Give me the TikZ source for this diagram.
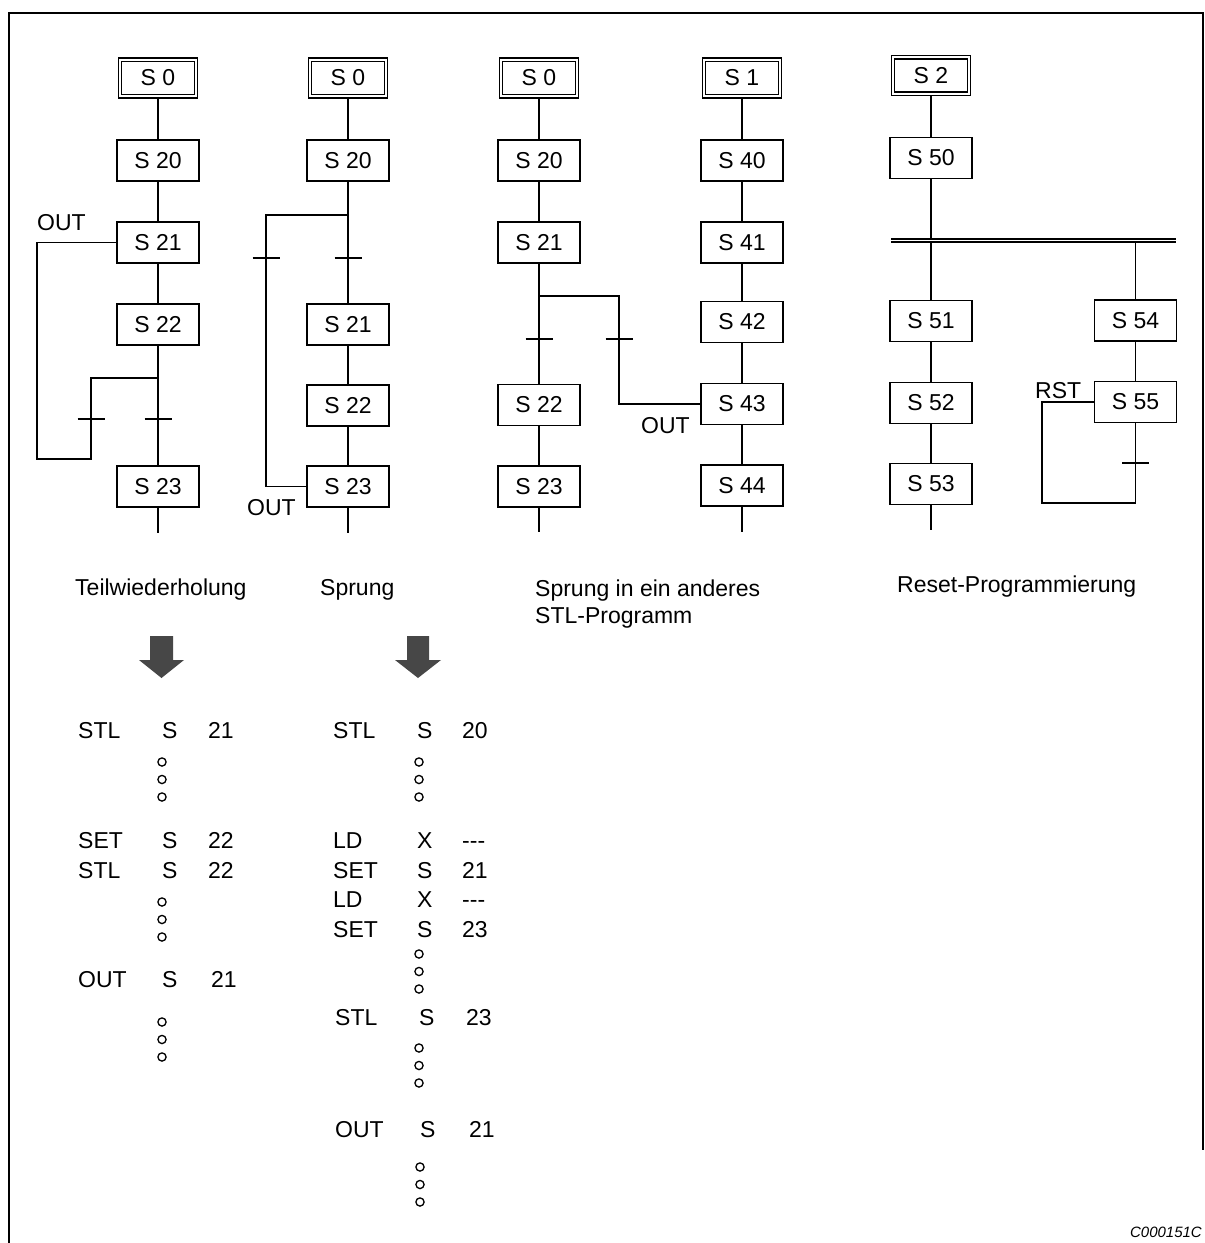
\documentclass[tikz,border=0pt]{standalone}
\usepackage{fontspec}
\setmainfont{Liberation Sans}
\definecolor{arrowgray}{HTML}{474747}
\newcommand{\threedots}[2]{%
  \draw[line width=1.3pt] (#1,#2) circle[radius=4.1pt];
  \draw[line width=1.3pt] (#1,#2+17.5) circle[radius=4.1pt];
  \draw[line width=1.3pt] (#1,#2+35) circle[radius=4.1pt];}
\newcommand{\dashes}{\mbox{-{}-{}-}}
\begin{document}
\begin{tikzpicture}[x=1pt,y=-1pt,
  every node/.style={font=\fontsize{23}{27}\selectfont},
  stepbox/.style={draw, line width=1.5pt, minimum width=82pt, minimum height=41pt, inner sep=0pt},
  initbox/.style={draw, double, double distance=2.2pt, line width=1.3pt, minimum width=76pt, minimum height=36.5pt, inner sep=0pt, outer sep=2.4pt},
  conn/.style={line width=1.4pt},
  lbl/.style={anchor=base west, inner sep=0pt},
  ctext/.style={anchor=base west, inner sep=0pt},
]
\useasboundingbox (0,0) rectangle (1205,1243);
% frame
\draw[line width=2.2pt] (9,1243) -- (9,13) -- (1203,13) -- (1203,1150);

% ---------- column 1: Teilwiederholung ----------
\node[initbox] (a0) at (158,78) {S 0};
\node[stepbox] (a20) at (158,160.5) {S 20};
\node[stepbox] (a21) at (158,242.5) {S 21};
\node[stepbox] (a22) at (158,324.5) {S 22};
\node[stepbox] (a23) at (158,486.5) {S 23};
\coordinate (aj) at (158,378);
\coordinate (al) at (91,378);
\coordinate (ab) at (91,459);
\coordinate (ac) at (37,459);
\coordinate (aend) at (158,533);
\coordinate (at1) at (91,419);
\coordinate (at2) at (158,419);
\draw[conn] (a0) -- (a20);
\draw[conn] (a20) -- (a21);
\draw[conn] (a21) -- (a22);
\draw[conn] (a22) -- (aj) -- (a23);
\draw[conn] (aj) -- (al) -- (ab) -- (ac) -- (ac |- a21) -- (a21.west);
\draw[conn] (a23) -- (aend);
\draw[conn] ([xshift=-13.5pt]at1) -- ([xshift=13.5pt]at1);
\draw[conn] ([xshift=-13.5pt]at2) -- ([xshift=13.5pt]at2);
\node[lbl] (aout) at (37,230) {OUT};

% ---------- column 2: Sprung ----------
\node[initbox] (b0) at (348,78) {S 0};
\node[stepbox] (b20) at (348,160.5) {S 20};
\node[stepbox] (b21) at (348,324.5) {S 21};
\node[stepbox] (b22) at (348,405.5) {S 22};
\node[stepbox] (b23) at (348,486.5) {S 23};
\coordinate (bj) at (348,215);
\coordinate (bl) at (266,215);
\coordinate (bend) at (348,533);
\coordinate (bt1) at (266,258);
\coordinate (bt2) at (348,258);
\draw[conn] (b0) -- (b20);
\draw[conn] (b20) -- (bj) -- (b21);
\draw[conn] (bj) -- (bl) -- (bl |- b23) -- (b23.west);
\draw[conn] (b21) -- (b22);
\draw[conn] (b22) -- (b23);
\draw[conn] (b23) -- (bend);
\draw[conn] ([xshift=-13.5pt]bt1) -- ([xshift=13.5pt]bt1);
\draw[conn] ([xshift=-13.5pt]bt2) -- ([xshift=13.5pt]bt2);
\node[lbl] (bout) at (247,515) {OUT};

% ---------- column 3 / 4: Sprung in ein anderes STL-Programm ----------
\node[initbox] (c0) at (539,78) {S 0};
\node[stepbox] (c20) at (539,160.5) {S 20};
\node[stepbox] (c21) at (539,242.5) {S 21};
\node[stepbox] (c22) at (539,405) {S 22};
\node[stepbox] (c23) at (539,486.5) {S 23};
\node[initbox] (d1) at (742,78) {S 1};
\node[stepbox] (d40) at (742,160.5) {S 40};
\node[stepbox] (d41) at (742,242.5) {S 41};
\node[stepbox] (d42) at (742,322) {S 42};
\node[stepbox] (d43) at (742,404) {S 43};
\node[stepbox] (d44) at (742,485.5) {S 44};
\coordinate (cj) at (539,296);
\coordinate (cr) at (619,296);
\coordinate (cend) at (539,532);
\coordinate (dend) at (742,532);
\coordinate (ct1) at (539,339);
\coordinate (ct2) at (619,339);
\draw[conn] (c0) -- (c20);
\draw[conn] (c20) -- (c21);
\draw[conn] (c21) -- (cj) -- (c22);
\draw[conn] (cj) -- (cr) -- (cr |- d43) -- (d43.west);
\draw[conn] (c22) -- (c23);
\draw[conn] (c23) -- (cend);
\draw[conn] ([xshift=-13.5pt]ct1) -- ([xshift=13.5pt]ct1);
\draw[conn] ([xshift=-13.5pt]ct2) -- ([xshift=13.5pt]ct2);
\node[lbl] (cout) at (641,433) {OUT};
\draw[conn] (d1) -- (d40);
\draw[conn] (d40) -- (d41);
\draw[conn] (d41) -- (d42);
\draw[conn] (d42) -- (d43);
\draw[conn] (d43) -- (d44);
\draw[conn] (d44) -- (dend);

% ---------- column 5 / 6: Reset-Programmierung ----------
\node[initbox] (e2) at (931,75.5) {S 2};
\node[stepbox] (e50) at (931,158) {S 50};
\node[stepbox] (e51) at (931,321) {S 51};
\node[stepbox] (e52) at (931,403) {S 52};
\node[stepbox] (e53) at (931,484) {S 53};
\node[stepbox] (f54) at (1135.5,320.5) {S 54};
\node[stepbox] (f55) at (1135.5,402) {S 55};
\coordinate (eL) at (891,240.5);
\coordinate (eR) at (1176,240.5);
\coordinate (etop) at (931,239);
\coordinate (ebot) at (931,242);
\coordinate (fbot) at (1135.5,242);
\coordinate (eend) at (931,530);
\coordinate (fd) at (1135.5,503);
\coordinate (fl) at (1042,503);
\coordinate (ft) at (1135.5,463);
\draw[line width=1.4pt, double, double distance=1.8pt] (eL) -- (eR);
\draw[conn] (e2) -- (e50);
\draw[conn] (e50) -- (etop);
\draw[conn] (ebot) -- (e51);
\draw[conn] (fbot) -- (f54);
\draw[conn] (e51) -- (e52);
\draw[conn] (e52) -- (e53);
\draw[conn] (e53) -- (eend);
\draw[conn] (f54) -- (f55);
\draw[conn] (f55) -- (fd) -- (fl) -- (fl |- f55) -- (f55.west);
\draw[conn] ([xshift=-13.5pt]ft) -- ([xshift=13.5pt]ft);
\node[lbl] (frst) at (1035,398) {RST};

% ---------- captions ----------
\node[lbl] (cap1) at (75,595) {Teilwiederholung};
\node[lbl] (cap2) at (320,595) {Sprung};
\node[lbl] (cap3) at (535,596) {Sprung in ein anderes};
\node[lbl] (cap3b) at (535,623) {STL-Programm};
\node[lbl] (cap4) at (897,592) {Reset-Programmierung};

% ---------- block arrows ----------
\fill[arrowgray] (150,636) -- (173,636) -- (173,660) -- (184,660) -- (161.5,678) -- (139,660) -- (150,660) -- cycle;
\fill[arrowgray] (407,636) -- (429,636) -- (429,660) -- (441,660) -- (418,678) -- (395,660) -- (407,660) -- cycle;

% ---------- code 1 ----------
\node[ctext] (p1a) at (78,738) {STL};
\node[ctext] (p1b) at (162,738) {S};
\node[ctext] (p1c) at (208,738) {21};
\threedots{162}{762}
\node[ctext] (p2a) at (78,848) {SET};
\node[ctext] (p2b) at (162,848) {S};
\node[ctext] (p2c) at (208,848) {22};
\node[ctext] (p3a) at (78,878) {STL};
\node[ctext] (p3b) at (162,878) {S};
\node[ctext] (p3c) at (208,878) {22};
\threedots{162}{902}
\node[ctext] (p4a) at (78,987) {OUT};
\node[ctext] (p4b) at (162,987) {S};
\node[ctext] (p4c) at (211,987) {21};
\threedots{162}{1022}

% ---------- code 2 ----------
\node[ctext] (q1a) at (333,738) {STL};
\node[ctext] (q1b) at (417,738) {S};
\node[ctext] (q1c) at (462,738) {20};
\threedots{419}{762}
\node[ctext] (q2a) at (333,848) {LD};
\node[ctext] (q2b) at (417,848) {X};
\node[ctext] (q2c) at (462,848) {\dashes};
\node[ctext] (q3a) at (333,878) {SET};
\node[ctext] (q3b) at (417,878) {S};
\node[ctext] (q3c) at (462,878) {21};
\node[ctext] (q4a) at (333,907) {LD};
\node[ctext] (q4b) at (417,907) {X};
\node[ctext] (q4c) at (462,907) {\dashes};
\node[ctext] (q5a) at (333,937) {SET};
\node[ctext] (q5b) at (417,937) {S};
\node[ctext] (q5c) at (462,937) {23};
\threedots{419}{954}
\node[ctext] (q6a) at (335,1025) {STL};
\node[ctext] (q6b) at (419,1025) {S};
\node[ctext] (q6c) at (466,1025) {23};
\threedots{419}{1048}
\node[ctext] (q7a) at (335,1137) {OUT};
\node[ctext] (q7b) at (420,1137) {S};
\node[ctext] (q7c) at (469,1137) {21};
\threedots{420}{1167}

% ---------- figure code ----------
\node[anchor=base east, inner sep=0pt, font=\fontsize{15}{18}\selectfont\itshape] (figid) at (1202,1237) {C000151C};
\end{tikzpicture}
\end{document}
